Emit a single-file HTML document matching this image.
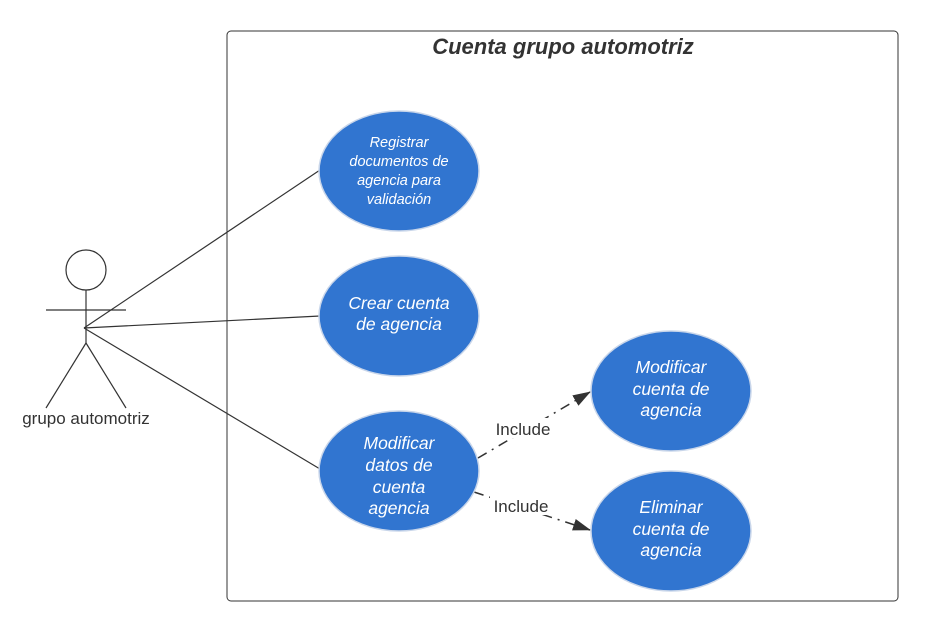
<!DOCTYPE html>
<html><head><meta charset="utf-8"><style>html,body{margin:0;padding:0;background:#fff}</style></head><body>
<svg width="945" height="632" viewBox="0 0 945 632" xmlns="http://www.w3.org/2000/svg" font-family="Liberation Sans, sans-serif">
<defs><marker id="a" markerWidth="18" markerHeight="12" refX="17" refY="6" orient="auto" markerUnits="userSpaceOnUse"><path d="M0,0 L18,6 L0,12 Z" fill="#333"/></marker></defs>
<rect x="227" y="31" width="671" height="570" rx="4" fill="#fff" stroke="#333" stroke-width="1"/>
<text x="563" y="54" text-anchor="middle" font-size="22" font-style="italic" font-weight="bold" fill="#333">Cuenta grupo automotriz</text>
<g stroke="#333" stroke-width="1.2" fill="none">
<circle cx="86" cy="270" r="20"/>
<line x1="86" y1="290" x2="86" y2="343"/>
<line x1="46" y1="310" x2="126" y2="310"/>
<line x1="86" y1="343" x2="46" y2="408"/>
<line x1="86" y1="343" x2="126" y2="408"/>
<line x1="84" y1="328" x2="320" y2="170"/>
<line x1="84" y1="328" x2="320" y2="316"/>
<line x1="84" y1="328" x2="320" y2="469"/>
<line x1="478" y1="458" x2="590" y2="392" stroke-width="1.5" stroke-dasharray="10,6,2,6" marker-end="url(#a)"/>
<line x1="474" y1="492" x2="590" y2="530" stroke-width="1.5" stroke-dasharray="10,6,2,6" marker-end="url(#a)"/>
</g>
<text x="86" y="424" text-anchor="middle" font-size="17" fill="#333">grupo automotriz</text>
<g fill="#3175d0" stroke="#c9d6ea" stroke-width="1.5">
<ellipse cx="399" cy="171" rx="80" ry="60"/>
<ellipse cx="399" cy="316" rx="80" ry="60"/>
<ellipse cx="399" cy="471" rx="80" ry="60"/>
<ellipse cx="671" cy="391" rx="80" ry="60"/>
<ellipse cx="671" cy="531" rx="80" ry="60"/>
</g>
<rect x="492" y="418" width="62" height="20" fill="#fff"/>
<rect x="490" y="495" width="62" height="20" fill="#fff"/>
<text x="523" y="435" text-anchor="middle" font-size="17" fill="#333">Include</text>
<text x="521" y="512" text-anchor="middle" font-size="17" fill="#333">Include</text>
<g fill="#fff" font-style="italic" text-anchor="middle">
<g font-size="14.5"><text x="399" y="147">Registrar</text><text x="399" y="166">documentos de</text><text x="399" y="185">agencia para</text><text x="399" y="204">validación</text></g>
<g font-size="17.5"><text x="399" y="309">Crear cuenta</text><text x="399" y="330">de agencia</text>
<text x="399" y="449">Modificar</text><text x="399" y="471">datos de</text><text x="399" y="493">cuenta</text><text x="399" y="514">agencia</text>
<text x="671" y="373">Modificar</text><text x="671" y="395">cuenta de</text><text x="671" y="416">agencia</text>
<text x="671" y="513">Eliminar</text><text x="671" y="535">cuenta de</text><text x="671" y="556">agencia</text></g>
</g>
</svg>
</body></html>
